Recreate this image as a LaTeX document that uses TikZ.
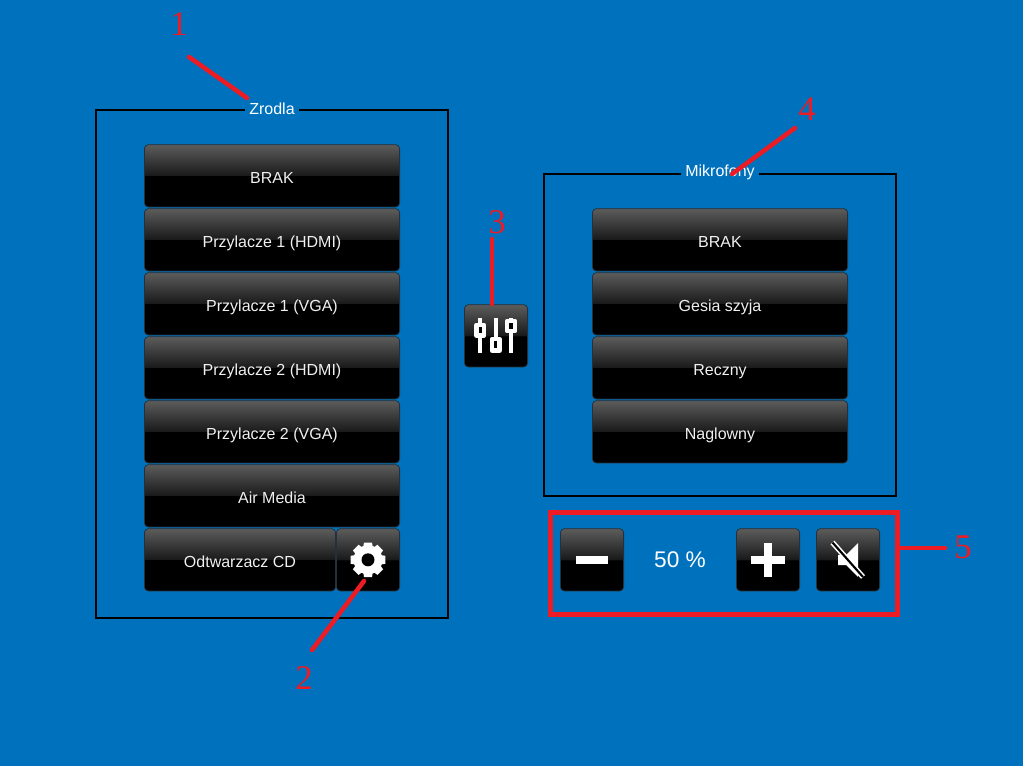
\documentclass[tikz,border=0pt]{standalone}
\usepackage{fontspec}
\setmainfont{Liberation Sans}
\newfontfamily\numfont{Liberation Serif}
\usetikzlibrary{positioning}
\definecolor{panelblue}{RGB}{0,113,188}
\definecolor{markred}{RGB}{237,28,36}
\definecolor{btnedge}{RGB}{38,48,58}
\pgfdeclareverticalshading{btnshade}{100bp}{rgb(0bp)=(0,0,0); rgb(50bp)=(0,0,0); rgb(50.01bp)=(0.10,0.10,0.10); rgb(75bp)=(0.36,0.36,0.36); rgb(100bp)=(0.36,0.36,0.36)}

\begin{document}
\begin{tikzpicture}[x=0.75pt,y=-0.75pt]
        \tikzstyle{button} = [draw=btnedge, line width=0.6pt, rounded corners=3pt, shading=btnshade, text=white!94!black, font=\fontsize{12}{14}\selectfont, text height=12pt, text depth=1pt, inner sep=0pt, minimum height=46.7pt]
        \tikzstyle{wide} = [button, minimum width=191.4pt, node distance=48pt]
        \tikzstyle{square} = [button, minimum width=47.4pt]
        \tikzstyle{frame} = [draw=black, line width=1.5pt]
        \tikzstyle{title} = [fill=panelblue, text=white, inner xsep=3pt, inner ysep=1pt, font=\fontsize{12}{14}\selectfont]
        \tikzstyle{number} = [text=markred, font=\numfont\fontsize{26}{30}\selectfont]
        \tikzstyle{marker} = [draw=markred, line width=3.4pt, line cap=round]
        \tikzstyle{icon} = [fill=white, draw=none]
        \path[use as bounding box, fill=panelblue] (0,0) rectangle (1023,766);
        %Creating Frames
        \node [frame, minimum width=264pt, minimum height=381pt, inner sep=0pt] at (272,364) (sources) {};
        \node [title] at (272,108.5) (sources_title) {Zrodla};
        \node [frame, minimum width=264pt, minimum height=241.5pt, inner sep=0pt] at (720,335) (mics) {};
        \node [title] at (720,172.5) (mics_title) {Mikrofony};
        %Creating Buttons
        \node [wide] at (272,175.8) (brak_src) {BRAK};
        \node [wide, below of=brak_src] (hdmi_one) {Przylacze 1 (HDMI)};
        \node [wide, below of=hdmi_one] (vga_one) {Przylacze 1 (VGA)};
        \node [wide, below of=vga_one] (hdmi_two) {Przylacze 2 (HDMI)};
        \node [wide, below of=hdmi_two] (vga_two) {Przylacze 2 (VGA)};
        \node [wide, below of=vga_two] (air) {Air Media};
        \node [button, minimum width=143.4pt] at (240,559.8) (cd) {Odtwarzacz CD};
        \node [square] at (368,559.8) (gear) {};
        \node [square] at (496,335.8) (mixer) {};
        \node [wide] at (720,239.8) (brak_mic) {BRAK};
        \node [wide, below of=brak_mic] (neck) {Gesia szyja};
        \node [wide, below of=neck] (hand) {Reczny};
        \node [wide, below of=hand] (head) {Naglowny};
        \node [square] at (592,559.8) (minus) {};
        \node [text=white, font=\fontsize{17}{20}\selectfont] at (680,560) (level) {50 \%};
        \node [square] at (768,559.8) (plus) {};
        \node [square] at (848,559.8) (mute) {};
        \node [draw=markred, line width=3.75pt, minimum width=260.25pt, minimum height=76.5pt, inner sep=0pt] at (724,563.5) (volume) {};
        %Icons
        \foreach \a in {0,45,...,315} {
            \fill [icon, rotate around={\a:(gear.center)}] (362.5,552) -- (364,542.5) -- (372,542.5) -- (373.5,552) -- cycle;
        }
        \fill [icon] (gear.center) circle [radius=14.5];
        \fill [black] (gear.center) circle [radius=6.5];
        \begin{scope}[white, line width=3.3pt, line join=round]
            \draw (480,318) -- (480,353);
            \draw (496,318) -- (496,353);
            \draw (511,318) -- (511,353);
            \draw [fill=black] (476.5,325) rectangle (484,335.5);
            \draw [fill=black] (492,339) rectangle (499.5,350.5);
            \draw [fill=black] (507,321) rectangle (515,331);
        \end{scope}
        \fill [icon] (576,556) rectangle (608,564);
        \fill [icon] (751,556) rectangle (785,564);
        \fill [icon] (764,543) rectangle (772,577);
        \fill [icon] (838,555) -- (846,555) -- (858,543) -- (858,577) -- (846,565) -- (838,565) -- cycle;
        \draw [white, line width=4pt] (832.5,542.5) -- (863,577);
        \draw [black, line width=1.6pt] (832.5,542.5) -- (863,577);
        %Creating Numbers and Connection Points
        \node [number] at (179,24) (num_one) {1};
        \node [number] at (304,678) (num_two) {2};
        \node [number] at (497,222) (num_three) {3};
        \node [number] at (807,109) (num_four) {4};
        \node [number] at (963,547) (num_five) {5};
        \coordinate (one_start) at (189,57);
        \coordinate (one_end) at (247,98);
        \coordinate (two_start) at (312,650);
        \coordinate (two_end) at (364,581);
        \coordinate (three_start) at (492,239);
        \coordinate (three_end) at (492,304);
        \coordinate (four_start) at (795,128);
        \coordinate (four_end) at (732,174);
        \coordinate (five_start) at (945,548);
        %Connecting Numbers
        \begin{scope}
            \draw [marker] (one_start) -- (one_end);
            \draw [marker] (two_start) -- (two_end);
            \draw [marker] (three_start) -- (three_end);
            \draw [marker] (four_start) -- (four_end);
            \draw [marker] (five_start) -- (volume.east |- five_start);
        \end{scope}
    \end{tikzpicture}
\end{document}
